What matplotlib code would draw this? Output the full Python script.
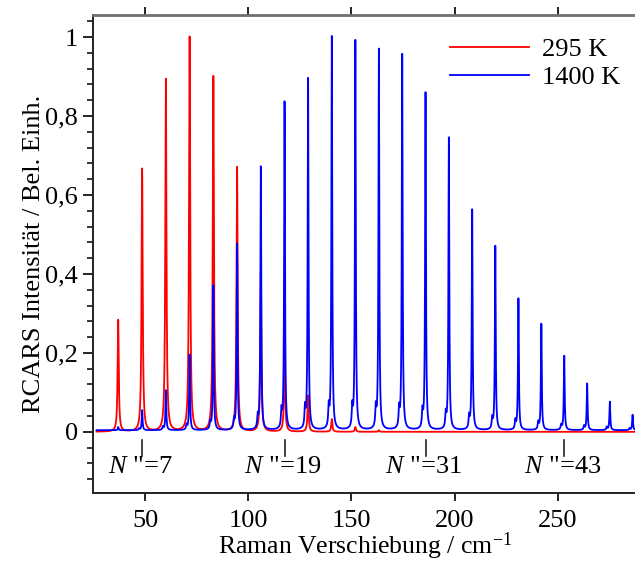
import numpy as np
import matplotlib
matplotlib.use("Agg")
import matplotlib.pyplot as plt
from matplotlib.ticker import MultipleLocator, FixedLocator

plt.rcParams['font.family'] = ['Liberation Serif', 'DejaVu Serif']
plt.rcParams['mathtext.fontset'] = 'custom'
plt.rcParams['mathtext.rm'] = 'Liberation Serif'
plt.rcParams['mathtext.it'] = 'Liberation Serif:italic'

# ---- data ----
peak_pos = [37.0, 48.6, 60.1, 71.6, 83.1, 94.6, 106.1, 117.6, 129.0, 140.5,
            151.9, 163.3, 174.6, 185.9, 197.2, 208.5, 219.7, 230.9, 242.0,
            253.1, 264.2, 275.2, 286.2]
red_295K = [0.283, 0.666, 0.893, 1.0, 0.90, 0.67, 0.40, 0.21, 0.092, 0.032,
            0.012, 0.004, 0.0, 0.0, 0.0, 0.0, 0.0, 0.0, 0.0, 0.0, 0.0, 0.0, 0.0]
blue_1400K = [0.012, 0.055, 0.105, 0.195, 0.37, 0.475, 0.671, 0.835, 0.894,
              1.0, 0.99, 0.968, 0.955, 0.858, 0.744, 0.562, 0.47, 0.337,
              0.273, 0.192, 0.122, 0.076, 0.043]
blue_satellite = [0.0, 0.004, 0.008, 0.012, 0.018, 0.024, 0.03, 0.042, 0.048,
                  0.05, 0.05, 0.048, 0.045, 0.04, 0.035, 0.03, 0.026, 0.022,
                  0.018, 0.012, 0.01, 0.008, 0.005]
satellite_shift = -1.5
blue_offset = 0.004

label_N = ["7", "19", "31", "43"]
label_pos = [48.6, 117.6, 185.9, 253.1]
legend_labels = ["295 K", "1400 K"]
x_ticks = [50, 100, 150, 200, 250]
y_ticks = [0, 0.2, 0.4, 0.6, 0.8, 1.0]
y_ticklabels = ["0", "0,2", "0,4", "0,6", "0,8", "1"]

# ---- spectrum synthesis (line shape applied to read peaks) ----
x = np.arange(26.5, 288.0, 0.02)

def lor(center, height, g):
    return height * g**2 / ((x - center)**2 + g**2)

red = np.zeros_like(x)
blue = np.full_like(x, blue_offset)
for p, hr, hb, hs in zip(peak_pos, red_295K, blue_1400K, blue_satellite):
    red += lor(p, hr, 0.33)
    blue += lor(p, hb - blue_offset, 0.24) + lor(p + satellite_shift, hs, 0.28)

fig = plt.figure(figsize=(6.35, 5.62), dpi=100)
ax = fig.add_axes([93/635, 1 - 493/562, 1.002 - 93/635, (493 - 15)/562])

ax.plot(x, red, color='#ff0000', lw=1.3, label=legend_labels[0])
ax.plot(x, blue, color='#0000ff', lw=1.3, label=legend_labels[1])

ax.set_xlim(24.8, 288.0)
ax.set_ylim(-0.155, 1.056)

ax.xaxis.set_major_locator(FixedLocator(x_ticks))
ax.yaxis.set_major_locator(FixedLocator(y_ticks))
ax.set_yticklabels(y_ticklabels)
ax.yaxis.set_minor_locator(MultipleLocator(0.04))
ax.tick_params(axis='x', which='both', top=True, bottom=True, direction='out',
               length=6, width=1.2, labelsize=19, pad=6)
ax.tick_params(axis='y', which='major', direction='out', length=7, width=1.2,
               labelsize=19, pad=4)
ax.tick_params(axis='y', which='minor', direction='out', length=4, width=1.1)

for s in ['left', 'bottom']:
    ax.spines[s].set_linewidth(1.4)
    ax.spines[s].set_color('#222222')
ax.spines['top'].set_linewidth(2.0)
ax.spines['top'].set_color('#707070')
ax.spines['right'].set_visible(False)

for pos, n in zip(label_pos, label_N):
    ax.plot([pos, pos], [-0.02, -0.06], color='#222222', lw=1.2)
    ax.text(pos - 1.0, -0.088, r'$N$ "=' + n, ha='center', va='center',
            fontsize=19)

ax.set_xlabel('Raman Verschiebung / cm$^{-1}$', fontsize=18.5, labelpad=-1)
ax.set_ylabel('RCARS Intensität / Bel. Einh.', fontsize=19, labelpad=0)

leg = ax.legend(loc='upper right', bbox_to_anchor=(1.0, 0.985), frameon=False,
                fontsize=19, handlelength=3.0, handletextpad=0.5,
                labelspacing=0.15, borderaxespad=0.2)
for l in leg.get_lines():
    l.set_linewidth(1.3)

fig.savefig('out.png', dpi=100)
